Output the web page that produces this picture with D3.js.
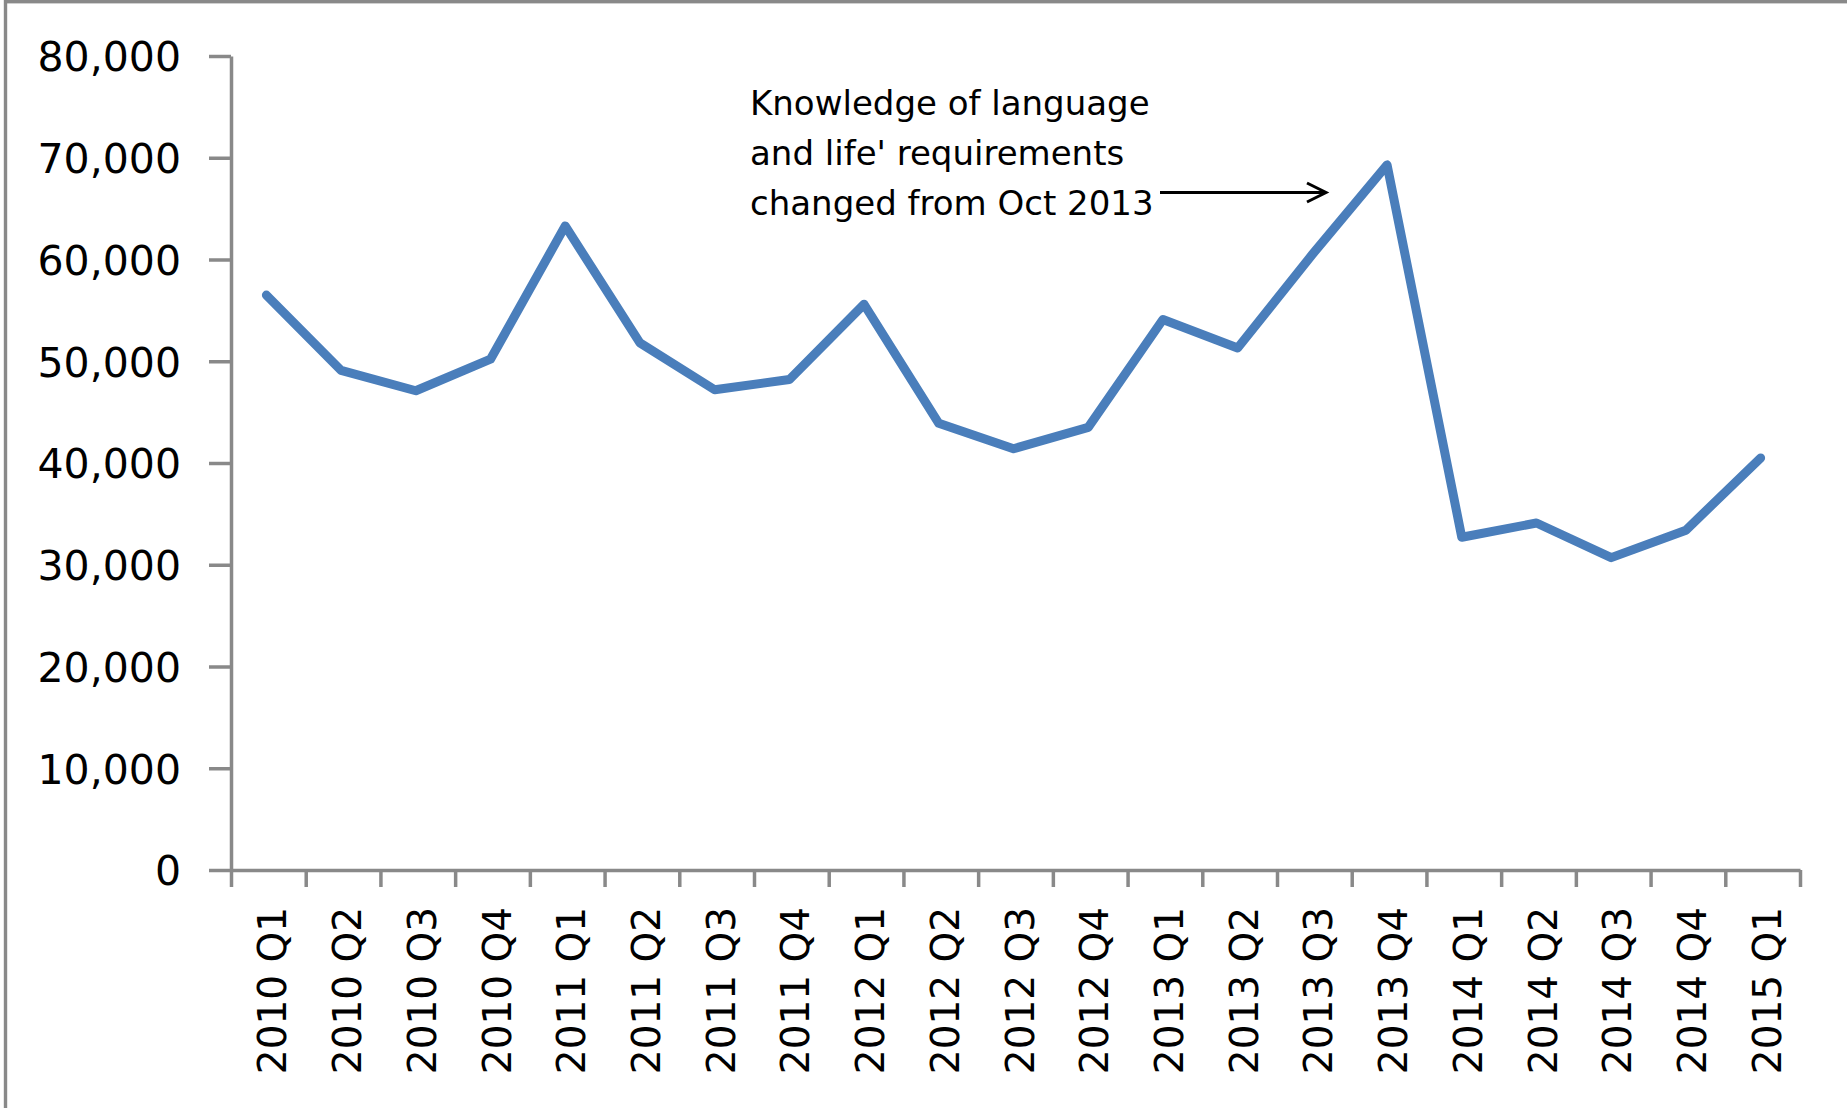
<!DOCTYPE html>
<html>
<head>
<meta charset="utf-8">
<script src="https://d3js.org/d3.v7.min.js"></script>
<style>
body { margin: 0; background: #fff; }
svg { display: block; }
.axis path, .axis line { stroke: #898989; stroke-width: 3.5; }
.lbl text { font-family: "DejaVu Sans", Verdana, sans-serif; fill: #000; }
</style>
</head>
<body>
<script>

var quarters = ["2010 Q1","2010 Q2","2010 Q3","2010 Q4","2011 Q1","2011 Q2","2011 Q3","2011 Q4",
                "2012 Q1","2012 Q2","2012 Q3","2012 Q4","2013 Q1","2013 Q2","2013 Q3","2013 Q4",
                "2014 Q1","2014 Q2","2014 Q3","2014 Q4","2015 Q1"];
var values = [56500, 49100, 47100, 50200, 63300, 51800, 47200, 48200, 55600, 43900, 41400,
              43500, 54100, 51300, 60500, 69300, 32700, 34100, 30700, 33400, 40500];
var yTicks = [0, 10000, 20000, 30000, 40000, 50000, 60000, 70000, 80000];
var note = ["Knowledge of language", "and life' requirements", "changed from Oct 2013"];

var W = 1847, H = 1108;
var svg = d3.select("body").append("svg").attr("width", W).attr("height", H);

// outer frame, only top and left edges are visible
svg.append("rect").attr("x", 5.5).attr("y", 1.7).attr("width", 3000).attr("height", 3000)
   .attr("fill", "#fff").attr("stroke", "#898989").attr("stroke-width", 3.4);

var x = d3.scaleBand().domain(quarters).range([231, 1800]);
var xi = d3.scaleLinear().domain([0, quarters.length]).range([231, 1800]);
var y = d3.scaleLinear().domain([0, 80000]).range([870, 56]);

// y axis
var ya = svg.append("g").attr("class", "axis lbl").attr("transform", "translate(231,0)")
  .call(d3.axisLeft(y).tickValues(yTicks).tickSize(22).tickPadding(28).tickSizeOuter(0)
        .tickFormat(d3.format(",")));
ya.selectAll("text").style("font-size", "41px").attr("dy", "0.36em");

// x axis: tick marks at category edges
svg.append("g").attr("class", "axis").attr("transform", "translate(0,870)")
  .call(d3.axisBottom(xi).ticks(quarters.length).tickSize(17).tickSizeOuter(0).tickFormat(""));

// x labels, rotated
var xl = svg.append("g").attr("class", "lbl").attr("transform", "translate(0,870)")
  .call(d3.axisBottom(x).tickSize(0));
xl.select(".domain").remove();
xl.selectAll("text")
  .style("font-size", "39px")
  .attr("text-anchor", "end")
  .attr("transform", "rotate(-90)")
  .attr("x", -37).attr("y", 18).attr("dy", 0);

// series line
var line = d3.line()
  .x(function(d, i) { return x(quarters[i]) + x.bandwidth() / 2 - 2; })
  .y(function(d) { return y(d); });

svg.append("path").datum(values)
  .attr("d", line)
  .attr("fill", "none")
  .attr("stroke", "#4a7ebb")
  .attr("stroke-width", 9)
  .attr("stroke-linejoin", "round")
  .attr("stroke-linecap", "round");

// annotation
var ann = svg.append("g").attr("class", "lbl");
ann.selectAll("text").data(note).enter().append("text")
  .attr("x", 750)
  .attr("y", function(d, i) { return 115 + i * 50; })
  .style("font-size", "34px")
  .text(function(d) { return d; });

svg.append("line").attr("x1", 1160).attr("y1", 192.5).attr("x2", 1325).attr("y2", 192.5)
   .attr("stroke", "#000").attr("stroke-width", 3);
svg.append("polyline").attr("points", "1307,183 1326,192.5 1307,202")
   .attr("fill", "none").attr("stroke", "#000").attr("stroke-width", 3);

</script>
</body>
</html>
